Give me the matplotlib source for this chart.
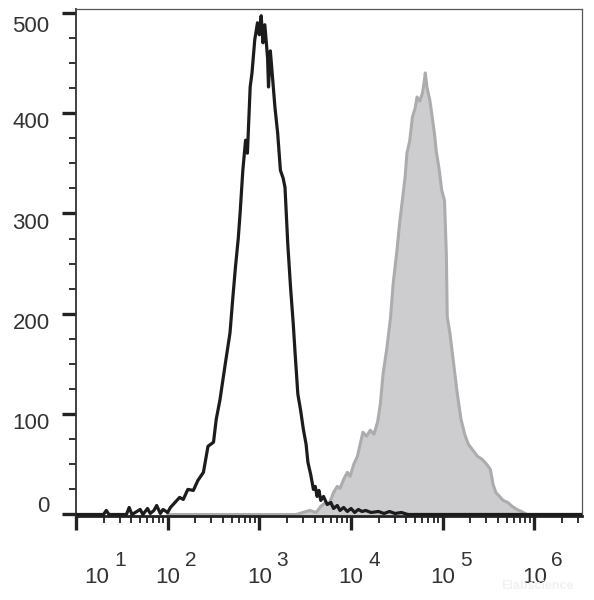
import numpy as np
import matplotlib
matplotlib.use("Agg")
import matplotlib.pyplot as plt
from matplotlib.ticker import FixedLocator, NullFormatter

plt.rcParams["font.family"] = ["Liberation Sans", "DejaVu Sans"]

# black (control) histogram: log10 of fluorescence and event counts
black_log = [1.00, 1.30, 1.33, 1.36, 1.55, 1.58, 1.61, 1.70, 1.73, 1.78, 1.81,
             1.85, 1.88, 1.92, 1.95, 2.00, 2.03, 2.08, 2.13, 2.17, 2.22, 2.28,
             2.33, 2.39, 2.44, 2.50, 2.53, 2.57, 2.63, 2.68, 2.71, 2.74, 2.77,
             2.79, 2.82, 2.85, 2.87, 2.90, 2.92, 2.95, 2.98, 3.00, 3.02, 3.04,
             3.06, 3.09, 3.10, 3.12, 3.14, 3.17, 3.20, 3.23, 3.26, 3.28, 3.31,
             3.34, 3.37, 3.39, 3.42, 3.45, 3.48, 3.51, 3.53, 3.56, 3.59, 3.61,
             3.63, 3.65, 3.67, 3.70, 3.74, 3.78, 3.81, 3.85, 3.88, 3.92, 3.96,
             4.00, 4.04, 4.08, 4.12, 4.16, 4.22, 4.30, 4.36, 4.42, 4.48, 4.55,
             4.62, 6.60]
black_counts = [0, 0, 4, 0, 0, 7, 0, 5, 0, 6, 1,
                4, 9, 1, 5, 2, 7, 12, 17, 15, 25, 24,
                34, 42, 68, 72, 95, 114, 151, 181, 215, 247, 275,
                300, 343, 373, 360, 426, 440, 473, 490, 478, 497, 470,
                488, 455, 426, 462, 440, 406, 380, 343, 335, 326, 270,
                227, 190, 161, 120, 104, 85, 70, 52, 40, 25, 28,
                18, 24, 14, 18, 10, 12, 6, 9, 4, 7, 3,
                6, 2, 5, 3, 4, 2, 3, 1, 3, 1, 2,
                0, 0]

# grey (stained) histogram
grey_log = [2.00, 3.40, 3.55, 3.62, 3.67, 3.72, 3.76, 3.81, 3.85, 3.88, 3.92,
            3.96, 3.99, 4.03, 4.07, 4.10, 4.13, 4.17, 4.21, 4.25, 4.29, 4.32,
            4.35, 4.39, 4.43, 4.46, 4.50, 4.53, 4.56, 4.59, 4.61, 4.64, 4.67,
            4.70, 4.72, 4.75, 4.78, 4.80, 4.81, 4.83, 4.86, 4.88, 4.91, 4.93,
            4.96, 4.99, 5.02, 5.04, 5.05, 5.08, 5.12, 5.16, 5.20, 5.24, 5.28,
            5.33, 5.38, 5.43, 5.48, 5.52, 5.55, 5.58, 5.62, 5.66, 5.71, 5.76,
            5.81, 5.86, 5.92, 6.60]
grey_counts = [0, 0, 4, 2, 8, 12, 10, 22, 28, 26, 35,
               42, 38, 50, 58, 70, 82, 78, 84, 80, 92, 110,
               140, 165, 195, 230, 262, 290, 313, 336, 360, 372, 396,
               405, 416, 412, 420, 432, 440, 425, 413, 400, 380, 362,
               345, 323, 313, 260, 197, 180, 150, 120, 95, 80, 70,
               64, 58, 55, 50, 45, 30, 22, 18, 14, 12, 8,
               5, 3, 0, 0]

y_ticks = [0, 100, 200, 300, 400, 500]
x_decades = [1, 2, 3, 4, 5, 6]

fig = plt.figure(figsize=(5.94, 6), dpi=100)
ax = fig.add_axes([76 / 594, 84 / 600, 506 / 594, 507 / 600])

bx = 10 ** np.array(black_log)
gx = 10 ** np.array(grey_log)
ax.fill_between(gx, grey_counts, 0, color="#cdcdcf", linewidth=0, zorder=1)
ax.plot(gx, grey_counts, color="#acacae", lw=2.2, zorder=2)
ax.plot(bx, black_counts, color="#1c1c1c", lw=2.3, zorder=3)

ax.set_xscale("log")
ax.set_xlim(10 ** 1, 10 ** 6.52)
ax.set_ylim(-1.5, 503.7)

# ticks
ax.xaxis.set_major_locator(FixedLocator([10 ** d for d in x_decades]))
minor = [m * 10 ** d for d in range(1, 7) for m in range(2, 10)]
ax.xaxis.set_minor_locator(FixedLocator(minor))
ax.set_yticks(y_ticks)
ax.yaxis.set_minor_locator(FixedLocator(np.arange(25, 500, 25)))
ax.xaxis.set_major_formatter(NullFormatter())
ax.xaxis.set_minor_formatter(NullFormatter())
ax.yaxis.set_major_formatter(NullFormatter())
ax.tick_params(which="major", length=10, width=2.4, color="#222222", direction="out")
ax.tick_params(which="minor", length=5, width=1.3, color="#222222", direction="out")
ax.tick_params(top=False, right=False)

for side in ["top", "right"]:
    ax.spines[side].set_color("#555555")
    ax.spines[side].set_linewidth(0.9)
ax.spines["left"].set_color("#333333")
ax.spines["left"].set_linewidth(1.3)
ax.spines["bottom"].set_color("#222222")
ax.spines["bottom"].set_linewidth(2.0)

# y labels (slightly lowered, as in the original export)
y_shift = {0: 6, 100: -7, 200: -7, 300: -7, 400: -7, 500: -10}
for v in y_ticks:
    ax.annotate(str(v), xy=(0, v), xycoords=("axes fraction", "data"),
                xytext=(-19, y_shift[v]), textcoords="offset points",
                ha="right", va="center", fontsize=16, color="#333333")

# x labels: "10" with raised exponent
for d in x_decades:
    dx = 15 if d == 1 else 0
    ax.annotate("10", xy=(10 ** d, 0), xycoords=("data", "axes fraction"),
                xytext=(dx, -44), textcoords="offset points",
                ha="center", va="center", fontsize=16, color="#333333")
    ax.annotate(str(d), xy=(10 ** d, 0), xycoords=("data", "axes fraction"),
                xytext=(dx + 16.5, -32), textcoords="offset points",
                ha="center", va="center", fontsize=15, color="#333333")

fig.text(0.905, 0.018, "Elabscience", fontsize=9, color="#f1f1f1",
         fontweight="bold", ha="center")

fig.savefig("out.png", dpi=100)
